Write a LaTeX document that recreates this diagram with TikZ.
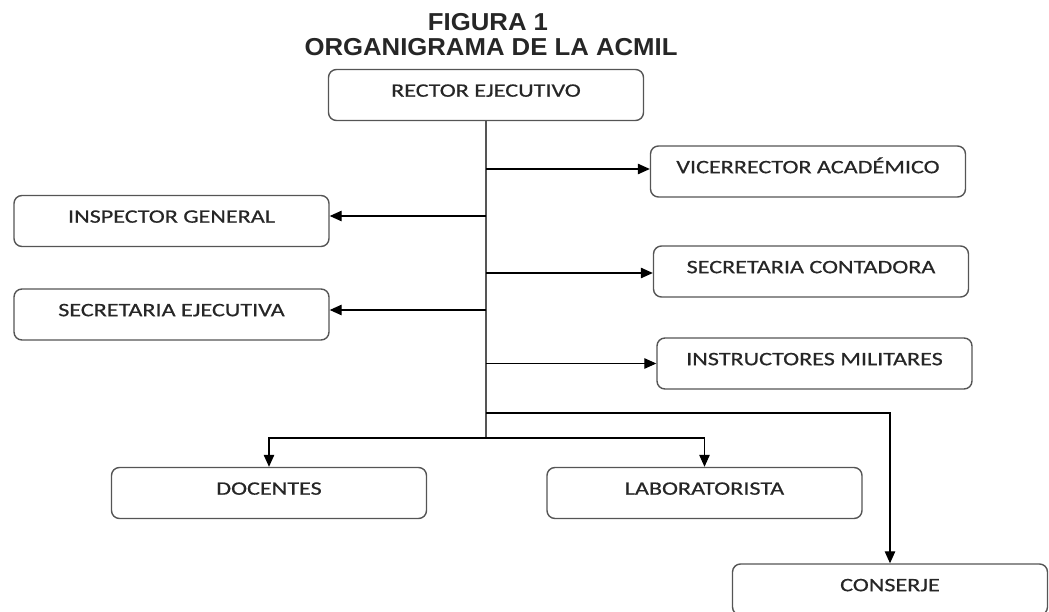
\documentclass[tikz,border=0pt]{standalone}
\usepackage{fontspec}
\usetikzlibrary{arrows.meta}
\newfontfamily\titlefont{Liberation Sans}[FakeStretch=1.05]
\newfontfamily\boxfont{Carlito}[FakeStretch=1.27,FakeBold=0.6]
\definecolor{boxline}{HTML}{555555}
\definecolor{boxtext}{HTML}{262626}
\tikzset{
  orgbox/.style={draw=boxline, line width=1.4pt, rounded corners=8pt,
    minimum width=315pt, minimum height=51pt, inner xsep=0pt, inner ysep=15pt,
    text height=12.2pt, text depth=8.8pt, font=\boxfont\fontsize{19}{22}\selectfont,
    text=boxtext, anchor=center},
  conn/.style={draw=black, line width=1.2pt},
  trunkline/.style={draw=boxline, line width=1.8pt},
  arr/.style={conn, -{Triangle[length=12pt,width=10.5pt]}},
  titletext/.style={font=\titlefont\bfseries\fontsize{24.5}{26}\selectfont, text=black!85, inner sep=0pt}
}
\begin{document}
\begin{tikzpicture}[x=1pt,y=-1pt]
\useasboundingbox (0,0) rectangle (1049,612);
\clip (0,0) rectangle (1049,612);
\node[titletext] (t1) at (488,22) {FIGURA 1};
\node[titletext] (t2) at (491,47) {ORGANIGRAMA DE LA ACMIL};

\node[orgbox] (rector) at (486,95) {RECTOR EJECUTIVO};
\node[orgbox] (vice) at (808,171.5) {VICERRECTOR ACADÉMICO};
\node[orgbox] (insp) at (171.5,221) {INSPECTOR GENERAL};
\node[orgbox] (seccont) at (811,271.5) {SECRETARIA CONTADORA};
\node[orgbox] (secej) at (171.5,314.5) {SECRETARIA EJECUTIVA};
\node[orgbox] (instr) at (814.5,363.5) {INSTRUCTORES MILITARES};
\node[orgbox] (doc) at (269,493) {DOCENTES};
\node[orgbox] (lab) at (704.5,493) {LABORATORISTA};
\node[orgbox] (cons) at (890,589.5) {CONSERJE};

\coordinate (j1) at (486,413);
\coordinate (j2) at (486,438);
\coordinate (vicein) at ([yshift=2.5pt]vice.west);
\coordinate (inspin) at ([yshift=5pt]insp.east);
\coordinate (seccin) at ([yshift=-1.5pt]seccont.west);
\coordinate (secejin) at ([yshift=4.5pt]secej.east);

\draw[trunkline] (rector.south) -- (j2);
\draw[arr] (rector.south |- vicein) -- (vicein);
\draw[arr] (rector.south |- inspin) -- (inspin);
\draw[arr] (rector.south |- seccin) -- (seccin);
\draw[arr] (rector.south |- secejin) -- (secejin);
\draw[arr] (rector.south |- instr.west) -- (instr.west);
\draw[arr] (j1) -| (cons.north);
\draw[arr] (j2) -| (doc.north);
\draw[arr] (j2) -| (lab.north);
\end{tikzpicture}
\end{document}
